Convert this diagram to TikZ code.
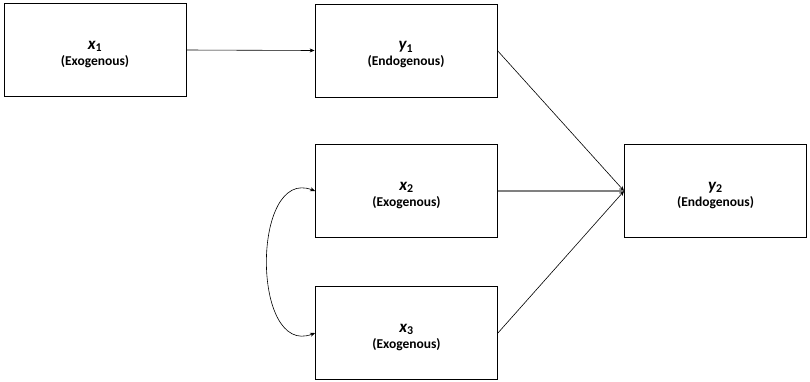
\documentclass[tikz,border=0pt]{standalone}
\usepackage{fontspec}
\setmainfont{Carlito}
\usetikzlibrary{arrows.meta}
\begin{document}
\begin{tikzpicture}[x=1pt,y=-1pt,
  var/.style={draw=black,line width=0.8pt,minimum width=182pt,minimum height=93pt,
    inner sep=0pt,align=center,fill=white},
  path/.style={draw=black,line width=0.6pt,-{Stealth[length=5pt,width=4pt]}},
  covar/.style={draw=black,line width=0.6pt,{Stealth[length=5pt,width=4pt]}-{Stealth[length=5pt,width=4pt]}}]
\useasboundingbox (0,0) rectangle (810,381);
\newcommand{\varlabel}[3]{\raisebox{-15pt}[0pt][0pt]{\shortstack{{\fontsize{17}{17}\selectfont\bfseries\itshape #1\textsubscript{\normalfont\bfseries #2}}\\[0pt]{\fontsize{13.5}{14}\selectfont\bfseries(#3)}}}}
\node[var] (x1) at (95,50) {\varlabel{x}{1}{Exogenous}};
\node[var] (y1) at (406,50.5) {\varlabel{y}{1}{Endogenous}};
\node[var] (x2) at (406.5,191) {\varlabel{x}{2}{Exogenous}};
\node[var] (x3) at (406.5,333) {\varlabel{x}{3}{Exogenous}};
\node[var] (y2) at (715.5,191) {\varlabel{y}{2}{Endogenous}};
\draw[path] (x1.east) -- (y1.west);
\draw[path] (y1.east) -- (y2.west);
\draw[path,draw=gray,line width=1.3pt] (x2.east) -- (y2.west);
\draw[path] (x3.east) -- (y2.west);
\draw[covar] (x2.west) .. controls +(-64,-25) and +(-64,25) .. (x3.west);
\end{tikzpicture}
\end{document}
